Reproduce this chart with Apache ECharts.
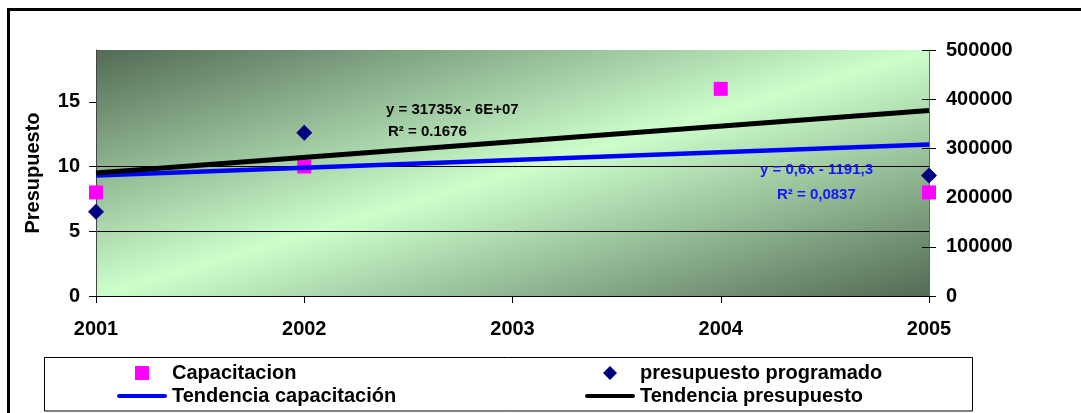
<!DOCTYPE html>
<html>
<head>
<meta charset="utf-8">
<script src="https://cdn.jsdelivr.net/npm/echarts@6/dist/echarts.min.js"></script>
<style>
html,body{margin:0;padding:0;background:#fff;}
#c{width:1081px;height:413px;}
</style>
</head>
<body>
<div id="c"></div>
<script>
// ---- data ----
var years = [2001, 2002, 2003, 2004, 2005];
var capacitacion = [8, 10, null, 16, 8];
var presupuesto = [171000, 332000, null, 503000, 245000];
var trendYears = [2001, 2005];
var tendCapacitacion = [9.3, 11.7];
var tendPresupuesto = [250000, 377000];
var leftTicks = [0, 5, 10, 15];
var eqPres = ['y = 31735x - 6E+07', 'R\u00B2 = 0.1676'];
var eqCap = ['y = 0,6x - 1191,3', 'R\u00B2 = 0,0837'];

function pairs(xs, ys) {
  var out = [];
  for (var i = 0; i < xs.length; i++) if (ys[i] != null) out.push([xs[i], ys[i]]);
  return out;
}

var FONT = '"Liberation Sans", Arial, sans-serif';
var chart = echarts.init(document.getElementById('c'), null, {renderer: 'canvas'});

var gridL = 96, gridT = 50, gridR = 152, gridB = 117;
var gw = 1081 - gridL - gridR, gh = 413 - gridT - gridB;
// gradient with isolines along the anti-diagonal of the plot box
var len = Math.sqrt(gw * gw + gh * gh);
var L = 2 * gw * gh / len;
var ex = gh / len * L, ey = gw / len * L;
var bg = new echarts.graphic.LinearGradient(0, 0, ex / gw, ey / gh, [
  {offset: 0, color: '#526b55'},
  {offset: 0.5, color: '#ccffcc'},
  {offset: 1, color: '#526b55'}
]);

var SQUARE = 'path://M0,0L10,0L10,10L0,10Z';
var DIAMOND = 'path://M5,0L10,5L5,10L0,5Z';
var LINEICON = 'path://M2,0L48,0A2,2,0,0,1,48,4L2,4A2,2,0,0,1,2,0Z';
var legendText = {color: '#000', fontSize: 20, fontWeight: 'bold', fontFamily: FONT, lineHeight: 20};

var option = {
  animation: false,
  textStyle: {fontFamily: FONT},
  grid: {left: gridL, top: gridT, right: gridR, bottom: gridB, show: true,
         backgroundColor: bg, borderWidth: 0},
  xAxis: {
    type: 'value', min: years[0], max: years[years.length - 1], interval: 1,
    axisLine: {show: true, onZero: false, lineStyle: {color: '#000', width: 1}},
    axisTick: {show: true, length: 7, lineStyle: {color: '#000'}},
    splitLine: {show: false},
    axisLabel: {margin: 23, color: '#000', fontSize: 20, fontWeight: 'bold', fontFamily: FONT,
                formatter: function (v) { return String(v); }}
  },
  yAxis: [
    {
      type: 'value', min: 0, max: 19, position: 'left',
      name: 'Presupuesto', nameLocation: 'middle', nameGap: 53,
      nameTextStyle: {color: '#000', fontSize: 20, fontWeight: 'bold', fontFamily: FONT},
      axisLine: {show: true, lineStyle: {color: '#444', width: 1}},
      axisTick: {show: true, length: 7, customValues: leftTicks, lineStyle: {color: '#000'}},
      axisLabel: {margin: 16, color: '#000', fontSize: 20, fontWeight: 'bold', fontFamily: FONT,
                  customValues: leftTicks, formatter: function (v) { return String(v); }},
      splitLine: {show: true, showMinLine: false, showMaxLine: false, lineStyle: {color: '#000', width: 1}}
    },
    {
      type: 'value', min: 0, max: 500000, interval: 100000, position: 'right',
      axisLine: {show: true, lineStyle: {color: '#666', width: 1}},
      axisTick: {show: true, length: 7, lineStyle: {color: '#000'}},
      axisLabel: {margin: 17, color: '#000', fontSize: 20, fontWeight: 'bold', fontFamily: FONT,
                  formatter: function (v) { return String(v); }},
      splitLine: {show: false}
    },
    {
      type: 'value', min: 0, max: 500000, interval: 100000, position: 'right',
      axisLine: {show: false},
      axisTick: {show: true, inside: true, length: 7, lineStyle: {color: '#000'}},
      axisLabel: {show: false},
      splitLine: {show: false}
    }
  ],
  legend: [
    {
      orient: 'vertical', left: 117, top: 363, height: 60, padding: 0, itemGap: 3,
      itemWidth: 50, itemHeight: 14, symbolKeepAspect: true, textStyle: legendText,
      data: [{name: 'Capacitacion', icon: SQUARE}, {name: 'Tendencia capacitaci\u00F3n', icon: LINEICON}]
    },
    {
      orient: 'vertical', left: 585, top: 363, height: 60, padding: 0, itemGap: 3,
      itemWidth: 50, itemHeight: 14, symbolKeepAspect: true, textStyle: legendText,
      data: [{name: 'presupuesto programado', icon: DIAMOND}, {name: 'Tendencia presupuesto', icon: LINEICON}]
    }
  ],
  graphic: [
    {type: 'rect', z: -10, silent: true,
     shape: {x: 8.5, y: 9.5, width: 1200, height: 600},
     style: {fill: 'none', stroke: '#000', lineWidth: 3}},
    {type: 'rect', z: 1, silent: true,
     shape: {x: 44.5, y: 357.5, width: 928, height: 53.5},
     style: {fill: '#fff', stroke: '#000', lineWidth: 1}},
    {type: 'text', z: 50, silent: true,
     style: {x: 386, y: 110, text: eqPres[0], fill: '#000', font: 'bold 15px ' + FONT, verticalAlign: 'middle'}},
    {type: 'text', z: 50, silent: true,
     style: {x: 388, y: 132, text: eqPres[1], fill: '#000', font: 'bold 15px ' + FONT, verticalAlign: 'middle'}},
    {type: 'text', z: 50, silent: true,
     style: {x: 760, y: 170, text: eqCap[0], fill: '#1414ff', font: 'bold 15px ' + FONT, verticalAlign: 'middle'}},
    {type: 'text', z: 50, silent: true,
     style: {x: 777, y: 195, text: eqCap[1], fill: '#1414ff', font: 'bold 15px ' + FONT, verticalAlign: 'middle'}}
  ],
  series: [
    {
      name: 'Capacitacion', type: 'scatter', xAxisIndex: 0, yAxisIndex: 0, z: 2,
      symbol: 'rect', symbolSize: 14, clip: true,
      itemStyle: {color: '#ff00ff', opacity: 1},
      data: pairs(years, capacitacion)
    },
    {
      name: 'presupuesto programado', type: 'scatter', xAxisIndex: 0, yAxisIndex: 1, z: 2,
      symbol: 'diamond', symbolSize: 16, clip: true,
      itemStyle: {color: '#000080', opacity: 1},
      data: pairs(years, presupuesto)
    },
    {
      name: 'Tendencia capacitaci\u00F3n', type: 'line', xAxisIndex: 0, yAxisIndex: 0, z: 3,
      symbol: 'none', lineStyle: {color: '#0000ff', width: 4.5}, itemStyle: {color: '#0000ff'},
      data: pairs(trendYears, tendCapacitacion)
    },
    {
      name: 'Tendencia presupuesto', type: 'line', xAxisIndex: 0, yAxisIndex: 1, z: 4,
      symbol: 'none', lineStyle: {color: '#000', width: 5}, itemStyle: {color: '#000'},
      data: pairs(trendYears, tendPresupuesto)
    }
  ]
};
chart.setOption(option);
</script>
</body>
</html>
